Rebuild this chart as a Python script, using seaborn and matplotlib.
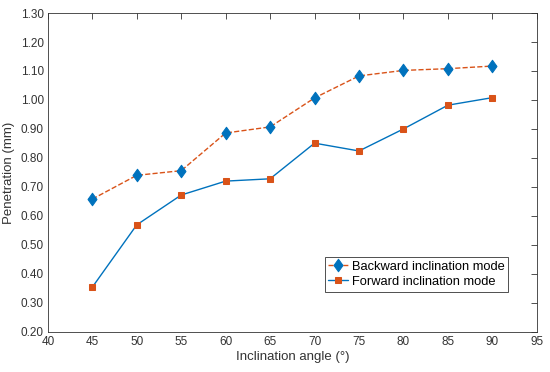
import numpy as np
import pandas as pd
import seaborn as sns
import matplotlib.pyplot as plt
from matplotlib.path import Path
from matplotlib.ticker import FormatStrFormatter

# data
angles = [45, 50, 55, 60, 65, 70, 75, 80, 85, 90]
backward = [0.658, 0.740, 0.756, 0.886, 0.907, 1.007, 1.083, 1.102, 1.108, 1.117]
forward = [0.354, 0.569, 0.672, 0.720, 0.728, 0.851, 0.824, 0.900, 0.982, 1.008]

blue = '#0072BD'
orange = '#D95319'
grey = '#333333'

# MATLAB-like diamond, a little taller than wide
diamond = Path([(0, 1), (0.72, 0), (0, -1), (-0.72, 0), (0, 1)],
               [Path.MOVETO, Path.LINETO, Path.LINETO, Path.LINETO, Path.CLOSEPOLY])

sns.set_style('white')
plt.rcParams['font.family'] = ['Liberation Sans', 'DejaVu Sans']

df = pd.DataFrame({'angle': angles, 'backward': backward, 'forward': forward})

fig, ax = plt.subplots(figsize=(5.5, 3.72), dpi=100)
fig.subplots_adjust(left=0.087, right=0.976, top=0.965, bottom=0.108)

# backward: orange dashed line, blue diamond markers (as in the original)
sns.lineplot(data=df, x='angle', y='backward', ax=ax, color=orange, linestyle='--',
             linewidth=1.0, marker=diamond, markersize=9, markerfacecolor=blue,
             markeredgecolor=blue, label='Backward inclination mode')
# forward: blue solid line, orange square markers
sns.lineplot(data=df, x='angle', y='forward', ax=ax, color=blue, linestyle='-',
             linewidth=1.0, marker='s', markersize=4.6, markerfacecolor=orange,
             markeredgecolor=orange, label='Forward inclination mode')

ax.set_xlim(40, 95)
ax.set_ylim(0.2, 1.3)
ax.set_xticks(np.arange(40, 96, 5))
ax.set_yticks(np.arange(0.2, 1.31, 0.1))
ax.yaxis.set_major_formatter(FormatStrFormatter('%.2f'))

ax.set_xlabel('Inclination angle (°)', fontsize=9.5, color=grey, labelpad=2)
ax.set_ylabel('Penetration (mm)', fontsize=9.5, color=grey, labelpad=4)
ax.tick_params(direction='in', length=4, width=0.6, top=True, right=True,
               labelsize=8.5, colors=grey, pad=3)
for side in ax.spines.values():
    side.set_color(grey)
    side.set_linewidth(0.6)

leg = ax.legend(loc='lower right', bbox_to_anchor=(0.955, 0.105), fontsize=9.3,
                frameon=True, fancybox=False, framealpha=1, borderpad=0.3,
                handlelength=1.5, handletextpad=0.3, labelspacing=0.25)
leg.get_frame().set_edgecolor(grey)
leg.get_frame().set_linewidth(0.6)
for t in leg.get_texts():
    t.set_color('black')

fig.savefig('out.png', dpi=100)
